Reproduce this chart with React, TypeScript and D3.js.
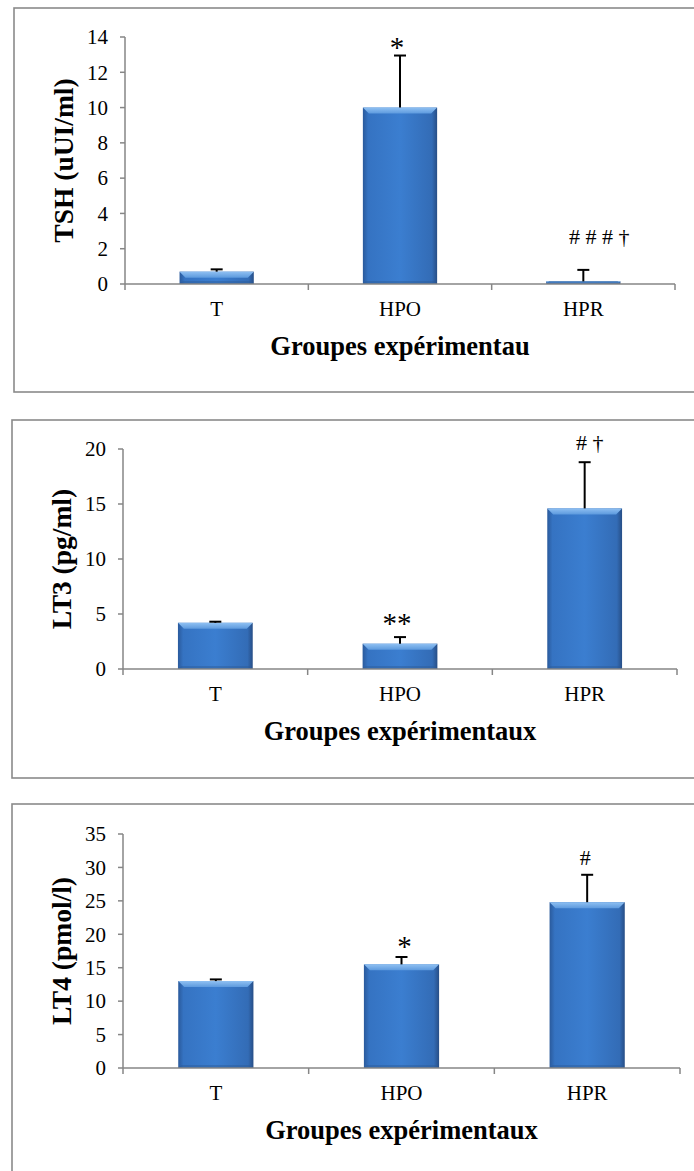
import * as d3 from "d3";
import React from "react";

// groupes et valeurs (moyenne + erreur)
const groups = ["T", "HPO", "HPR"];

const tshMean = [0.7, 10.0, 0.15];
const tshErr = [0.13, 2.95, 0.65];
const tshMarks = ["", "*", "# # # †"];
const tshTicks = [0, 2, 4, 6, 8, 10, 12, 14];

const lt3Mean = [4.2, 2.3, 14.6];
const lt3Err = [0.1, 0.6, 4.2];
const lt3Marks = ["", "**", "# †"];
const lt3Ticks = [0, 5, 10, 15, 20];

const lt4Mean = [13.0, 15.5, 24.8];
const lt4Err = [0.25, 1.1, 4.1];
const lt4Marks = ["", "*", "#"];
const lt4Ticks = [0, 5, 10, 15, 20, 25, 30, 35];

const FONT = "'Liberation Serif', 'Times New Roman', serif";
const AXIS = "#868686";

type PanelProps = {
  box: { x: number; y: number; w: number; h: number };
  x0: number;
  x1: number;
  yBottom: number;
  yTop: number;
  ticks: number[];
  mean: number[];
  err: number[];
  marks: string[];
  markDx: number[];
  markDy: number[];
  yLabel: string;
  title: string;
};

const Panel = ({ box, x0, x1, yBottom, yTop, ticks, mean, err, marks, markDx, markDy, yLabel, title }: PanelProps) => {
  const xScale = d3.scaleBand().domain(groups).range([x0, x1]).padding(0);
  const yScale = d3.scaleLinear().domain([0, d3.max(ticks)!]).range([yBottom, yTop]);
  const bw = xScale.bandwidth() * 0.405;
  const bounds = [x0, ...groups.slice(1).map(g => xScale(g)!), x1];

  return (
    <g>
      <rect x={box.x} y={box.y} width={box.w} height={box.h} fill="white" stroke="#8a8a8a" strokeWidth={1.6} />

      {/* barres */}
      {groups.map((g, i) => {
        const cx = xScale(g)! + xScale.bandwidth() / 2;
        const bx = cx - bw / 2;
        const by = yScale(mean[i]);
        const bh = yScale(0) - by;
        const bev = Math.min(6, bh / 2);
        return (
          <g key={g}>
            <rect x={bx} y={by} width={bw} height={bh} fill="url(#barBody)" />
            <polygon
              points={`${bx},${by} ${bx + bw},${by} ${bx + bw - bev},${by + bev} ${bx + bev},${by + bev}`}
              fill="url(#barTop)"
            />
            <polygon
              points={`${bx},${by + bh} ${bx + bw},${by + bh} ${bx + bw - 3},${by + bh - 3} ${bx + 3},${by + bh - 3}`}
              fill="#2c5a96"
              opacity={0.45}
            />
          </g>
        );
      })}

      {/* barres d'erreur */}
      {groups.map((g, i) => {
        const cx = xScale(g)! + xScale.bandwidth() / 2;
        const ty = yScale(mean[i] + err[i]);
        return (
          <g key={"e" + g} stroke="black" strokeWidth={2}>
            <line x1={cx} x2={cx} y1={yScale(mean[i])} y2={ty} />
            <line x1={cx - 6} x2={cx + 6} y1={ty} y2={ty} />
          </g>
        );
      })}

      {/* axes */}
      <line x1={x0} x2={x0} y1={yTop} y2={yBottom} stroke={AXIS} strokeWidth={1.5} />
      <line x1={x0} x2={x1} y1={yBottom} y2={yBottom} stroke={AXIS} strokeWidth={1.5} />
      {ticks.map(t => (
        <g key={"t" + t}>
          <line x1={x0 - 5} x2={x0} y1={yScale(t)} y2={yScale(t)} stroke={AXIS} strokeWidth={1.5} />
          <text x={x0 - 17} y={yScale(t)} dy="0.35em" textAnchor="end" fontSize={21} fontFamily={FONT} fill="black">
            {t}
          </text>
        </g>
      ))}
      {bounds.map((b, i) => (
        <line key={"b" + i} x1={b} x2={b} y1={yBottom} y2={yBottom + 6} stroke={AXIS} strokeWidth={1.5} />
      ))}
      {groups.map(g => (
        <text
          key={"l" + g}
          x={xScale(g)! + xScale.bandwidth() / 2}
          y={yBottom + 25}
          dy="0.35em"
          textAnchor="middle"
          fontSize={21}
          fontFamily={FONT}
          fill="black"
        >
          {g}
        </text>
      ))}

      {/* annotations : les astérisques sont plus grands */}
      {groups.map((g, i) => {
        if (!marks[i]) return null;
        const star = marks[i].includes("*");
        return (
          <text
            key={"m" + g}
            x={xScale(g)! + xScale.bandwidth() / 2 + markDx[i]}
            y={yScale(mean[i] + err[i]) - markDy[i]}
            dy={star ? "0.5em" : "0.35em"}
            textAnchor="middle"
            fontSize={star ? 29 : 22}
            fontFamily={FONT}
            fill="black"
          >
            {marks[i]}
          </text>
        );
      })}

      {/* titres */}
      <text
        x={(x0 + x1) / 2}
        y={yBottom + 62}
        dy="0.35em"
        textAnchor="middle"
        fontSize={26.5}
        fontWeight="bold"
        fontFamily={FONT}
        fill="black"
      >
        {title}
      </text>
      <text
        transform={`translate(${x0 - 62}, ${(yTop + yBottom) / 2}) rotate(-90)`}
        dy="0.35em"
        textAnchor="middle"
        fontSize={27.5}
        fontWeight="bold"
        fontFamily={FONT}
        fill="black"
      >
        {yLabel}
      </text>
    </g>
  );
};

const App = () => {
  return (
    <svg width={694} height={1171} style={{ position: "absolute", left: 0, top: 0, background: "white" }}>
      <defs>
        <linearGradient id="barBody" x1="0" x2="1" y1="0" y2="0">
          <stop offset="0%" stopColor="#2a5a9c" />
          <stop offset="7%" stopColor="#3573c2" />
          <stop offset="50%" stopColor="#3b7ed0" />
          <stop offset="93%" stopColor="#336cb6" />
          <stop offset="100%" stopColor="#274e86" />
        </linearGradient>
        <linearGradient id="barTop" x1="0" x2="0" y1="0" y2="1">
          <stop offset="0%" stopColor="#8fc0f2" />
          <stop offset="100%" stopColor="#5d9ade" />
        </linearGradient>
      </defs>
      <rect width={694} height={1171} fill="white" />

      <Panel
        box={{ x: 14, y: 8, w: 700, h: 384 }}
        x0={125}
        x1={675}
        yBottom={284}
        yTop={37}
        ticks={tshTicks}
        mean={tshMean}
        err={tshErr}
        marks={tshMarks}
        markDx={[0, -3, 16]}
        markDy={[0, 13, 34]}
        yLabel="TSH (uUI/ml)"
        title="Groupes expérimentau"
      />
      <Panel
        box={{ x: 12, y: 420, w: 700, h: 358 }}
        x0={123}
        x1={677}
        yBottom={669}
        yTop={449}
        ticks={lt3Ticks}
        mean={lt3Mean}
        err={lt3Err}
        marks={lt3Marks}
        markDx={[0, -3, 5]}
        markDy={[0, 19, 20]}
        yLabel="LT3 (pg/ml)"
        title="Groupes expérimentaux"
      />
      <Panel
        box={{ x: 12, y: 804, w: 700, h: 400 }}
        x0={123}
        x1={680}
        yBottom={1068}
        yTop={834}
        ticks={lt4Ticks}
        mean={lt4Mean}
        err={lt4Err}
        marks={lt4Marks}
        markDx={[0, 3, -2]}
        markDy={[0, 16, 17]}
        yLabel="LT4 (pmol/l)"
        title="Groupes expérimentaux"
      />
    </svg>
  );
};

export default App;
